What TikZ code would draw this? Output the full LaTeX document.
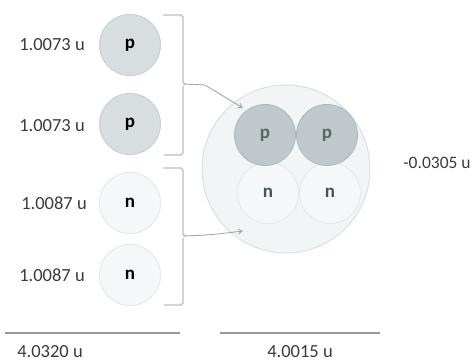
\documentclass[tikz,border=0pt]{standalone}
\usepackage{fontspec}
\setmainfont{Carlito}
\usetikzlibrary{arrows.meta}
\definecolor{pfill}{HTML}{D8DEE0}
\definecolor{pline}{HTML}{C8D1D4}
\definecolor{ipfill}{HTML}{BFC8CA}
\definecolor{ipline}{HTML}{ADB7B9}
\definecolor{nfill}{HTML}{F5F8F9}
\definecolor{nline}{HTML}{E3EAEC}
\definecolor{bigfill}{HTML}{F1F5F6}
\definecolor{bigline}{HTML}{D8E1E3}
\definecolor{txt}{HTML}{3A3A3A}
\definecolor{brk}{HTML}{B8BEC0}
\tikzset{
  lbl/.style={font=\fontsize{18.5}{20}\selectfont, text=txt, inner sep=0pt},
  proton/.style={circle, minimum size=61pt, inner sep=0pt, fill=pfill, draw=pline, line width=1pt, font=\bfseries\fontsize{19}{20}\selectfont, text=black},
  neutron/.style={circle, minimum size=61pt, inner sep=0pt, fill=nfill, draw=nline, line width=1pt, font=\bfseries\fontsize{19}{20}\selectfont, text=black},
  iproton/.style={circle, minimum size=61pt, inner sep=0pt, fill=ipfill, draw=ipline, line width=0.8pt, font=\bfseries\fontsize{19}{20}\selectfont, text={rgb,255:red,85;green,105;blue,100}},
  ineutron/.style={circle, minimum size=61pt, inner sep=0pt, fill=nfill, draw=nline, line width=1pt, font=\bfseries\fontsize{19}{20}\selectfont, text={rgb,255:red,70;green,85;blue,80}},
  bracket/.style={draw=brk, line width=1.2pt},
  conn/.style={draw=gray!70, line width=0.9pt, -{Straight Barb[length=4pt,width=5pt]}},
  rule/.style={draw=gray!80, line width=1.2pt}
}
\begin{document}
\begin{tikzpicture}[x=1pt,y=-1pt]
\useasboundingbox (0,0) rectangle (476,363);
% left particles
\node[proton] (p1) at (130,45) {p};
\node[proton] (p2) at (130,124) {p};
\node[neutron] (n1) at (130,203) {n};
\node[neutron] (n2) at (130,275) {n};
\node[lbl] (l1) at (52,45) {1.0073 u};
\node[lbl] (l2) at (52,126) {1.0073 u};
\node[lbl] (l3) at (54,203) {1.0087 u};
\node[lbl] (l4) at (52,275) {1.0087 u};
% brackets
\coordinate (bp) at (183,84);
\coordinate (bn) at (183,236);
\draw[bracket] (163,15) -- (181,15) -- (183,17) -- (183,82) -- (185,84) (183,86) -- (183,153) -- (181,155) -- (164,155);
\draw[bracket] (163,168) -- (181,168) -- (183,170) -- (183,234) -- (185,236) (183,238) -- (183,303) -- (181,305) -- (164,305);
% nucleus
\node[circle, minimum size=168pt, inner sep=0pt, fill=bigfill, draw=bigline, line width=1pt] (nuc) at (286,169) {};
\node[ineutron] (in1) at (268,193) {n};
\node[ineutron] (in2) at (330,193) {n};
\node[iproton] (ip2) at (327,135) {p};
\node[iproton] (ip1) at (265,135) {p};
% connectors
\coordinate (a1) at (243,108);
\coordinate (a2) at (243,231);
\draw[conn] (bp) -- (205,85) -- (a1);
\draw[conn] (bn) .. controls (210,235) .. (a2);
\node[lbl, font=\fontsize{17.5}{19}\selectfont] (d) at (437,163) {-0.0305 u};
% totals
\coordinate (r1a) at (5,333); \coordinate (r1b) at (180,333);
\coordinate (r2a) at (220,333); \coordinate (r2b) at (380,333);
\draw[rule] (r1a) -- (r1b);
\draw[rule] (r2a) -- (r2b);
\node[lbl] (t1) at (50,352) {4.0320 u};
\node[lbl] (t2) at (300,352) {4.0015 u};
\end{tikzpicture}
\end{document}
